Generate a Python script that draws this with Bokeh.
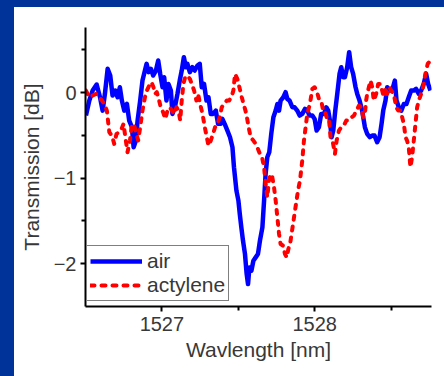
from bokeh.plotting import figure
from bokeh.models import Range1d, FixedTicker, Legend, LegendItem, ColumnDataSource
from bokeh.embed import file_html
from bokeh.resources import INLINE

# ---- data ----
air_wavelength = [
    1526.503, 1526.525, 1526.547, 1526.573, 1526.595, 1526.612, 1526.627, 1526.645, 1526.662, 1526.677,
    1526.695, 1526.710, 1526.725, 1526.738, 1526.754, 1526.771, 1526.786, 1526.804, 1526.815, 1526.830,
    1526.841, 1526.858, 1526.873, 1526.889, 1526.900, 1526.913, 1526.928, 1526.943, 1526.961, 1526.976,
    1526.989, 1527.004, 1527.015, 1527.030, 1527.043, 1527.059, 1527.069, 1527.085, 1527.102, 1527.117,
    1527.130, 1527.144, 1527.157, 1527.167, 1527.183, 1527.200, 1527.215, 1527.233, 1527.248, 1527.261,
    1527.276, 1527.292, 1527.305, 1527.320, 1527.335, 1527.353, 1527.368, 1527.385, 1527.396, 1527.411,
    1527.429, 1527.446, 1527.462, 1527.472, 1527.488, 1527.501, 1527.510, 1527.520, 1527.531, 1527.544,
    1527.555, 1527.564, 1527.573, 1527.586, 1527.599, 1527.614, 1527.629, 1527.642, 1527.658, 1527.669,
    1527.679, 1527.690, 1527.703, 1527.716, 1527.730, 1527.745, 1527.756, 1527.767, 1527.777, 1527.795,
    1527.810, 1527.821, 1527.836, 1527.854, 1527.869, 1527.886, 1527.902, 1527.919, 1527.937, 1527.952,
    1527.967, 1527.985, 1528.000, 1528.013, 1528.028, 1528.043, 1528.061, 1528.076, 1528.089, 1528.100,
    1528.111, 1528.122, 1528.135, 1528.148, 1528.163, 1528.174, 1528.187, 1528.198, 1528.213, 1528.226,
    1528.239, 1528.252, 1528.268, 1528.279, 1528.294, 1528.311, 1528.329, 1528.344, 1528.361, 1528.377,
    1528.392, 1528.409, 1528.425, 1528.438, 1528.449, 1528.464, 1528.475, 1528.492, 1528.507, 1528.525,
    1528.536, 1528.551, 1528.568, 1528.584, 1528.601, 1528.616, 1528.632, 1528.649, 1528.664, 1528.682,
    1528.697, 1528.714, 1528.730, 1528.743, 1528.758,
]
air_transmission = [
    -0.269, -0.094, 0.023, 0.094, -0.055, -0.211, -0.016, 0.277, 0.199, -0.035,
    0.023, -0.055, 0.062, -0.094, -0.211, -0.133, -0.327, -0.405, -0.639, -0.561,
    -0.327, -0.094, 0.140, 0.257, 0.335, 0.238, 0.277, 0.199, 0.257, 0.374,
    0.218, 0.062, 0.179, -0.094, 0.101, 0.023, -0.250, -0.172, -0.016, 0.140,
    0.257, 0.413, 0.296, 0.335, 0.238, 0.296, 0.257, 0.316, 0.335, 0.062,
    0.101, -0.094, -0.055, -0.250, -0.250, -0.211, -0.366, -0.366, -0.308, -0.366,
    -0.444, -0.522, -0.639, -0.873, -1.146, -1.263, -1.419, -1.575, -1.731, -1.887,
    -2.121, -2.238, -2.043, -2.082, -1.965, -1.926, -1.887, -1.731, -1.575, -1.263,
    -0.951, -0.756, -0.698, -0.483, -0.288, -0.211, -0.133, -0.211, -0.094, -0.055,
    0.004, -0.074, -0.094, -0.172, -0.172, -0.211, -0.269, -0.250, -0.191, -0.211,
    -0.269, -0.269, -0.308, -0.444, -0.405, -0.250, -0.250, -0.172, -0.211, -0.327,
    -0.522, -0.444, -0.211, -0.016, 0.218, 0.296, 0.179, 0.179, 0.296, 0.472,
    0.296, 0.218, 0.062, -0.016, -0.094, -0.211, -0.405, -0.483, -0.522, -0.503,
    -0.503, -0.581, -0.522, -0.366, -0.211, -0.094, 0.062, 0.023, 0.023, 0.140,
    -0.094, -0.172, -0.211, -0.133, -0.133, -0.055, 0.023, 0.023, 0.043, -0.016,
    0.023, 0.101, 0.218, 0.101, 0.023,
]
acetylene_wavelength = [
    1526.503, 1526.525, 1526.547, 1526.568, 1526.590, 1526.608, 1526.623, 1526.640, 1526.656, 1526.673,
    1526.688, 1526.703, 1526.721, 1526.736, 1526.749, 1526.764, 1526.775, 1526.791, 1526.804, 1526.819,
    1526.834, 1526.845, 1526.858, 1526.873, 1526.889, 1526.902, 1526.917, 1526.932, 1526.945, 1526.956,
    1526.967, 1526.982, 1526.993, 1527.008, 1527.022, 1527.037, 1527.052, 1527.065, 1527.080, 1527.096,
    1527.109, 1527.120, 1527.130, 1527.141, 1527.152, 1527.167, 1527.183, 1527.196, 1527.211, 1527.226,
    1527.237, 1527.250, 1527.266, 1527.281, 1527.294, 1527.305, 1527.320, 1527.335, 1527.348, 1527.364,
    1527.379, 1527.392, 1527.407, 1527.425, 1527.440, 1527.455, 1527.468, 1527.479, 1527.494, 1527.510,
    1527.523, 1527.538, 1527.553, 1527.566, 1527.581, 1527.599, 1527.614, 1527.629, 1527.642, 1527.658,
    1527.669, 1527.679, 1527.690, 1527.701, 1527.712, 1527.723, 1527.734, 1527.745, 1527.756, 1527.767,
    1527.777, 1527.793, 1527.806, 1527.817, 1527.828, 1527.839, 1527.849, 1527.865, 1527.878, 1527.891,
    1527.904, 1527.919, 1527.930, 1527.941, 1527.952, 1527.969, 1527.985, 1528.000, 1528.013, 1528.028,
    1528.043, 1528.056, 1528.067, 1528.078, 1528.093, 1528.104, 1528.119, 1528.133, 1528.144, 1528.159,
    1528.174, 1528.191, 1528.207, 1528.224, 1528.242, 1528.257, 1528.274, 1528.290, 1528.305, 1528.318,
    1528.329, 1528.337, 1528.344, 1528.355, 1528.366, 1528.377, 1528.387, 1528.403, 1528.416, 1528.431,
    1528.442, 1528.453, 1528.464, 1528.475, 1528.490, 1528.501, 1528.518, 1528.534, 1528.547, 1528.562,
    1528.573, 1528.584, 1528.595, 1528.605, 1528.616, 1528.627, 1528.638, 1528.649, 1528.660, 1528.671,
    1528.682, 1528.697, 1528.710, 1528.725, 1528.740, 1528.758,
]
acetylene_transmission = [
    0.023, -0.055, -0.035, -0.016, -0.055, -0.094, -0.133, -0.211, -0.464, -0.503,
    -0.600, -0.483, -0.464, -0.425, -0.366, -0.561, -0.698, -0.561, -0.366, -0.386,
    -0.483, -0.561, -0.405, -0.211, -0.055, 0.023, 0.082, 0.121, 0.062, -0.016,
    0.004, -0.094, -0.172, -0.230, -0.308, -0.211, -0.172, -0.211, -0.250, -0.172,
    -0.211, -0.327, -0.094, 0.101, 0.179, 0.199, 0.160, 0.101, 0.023, -0.094,
    -0.016, -0.133, -0.250, -0.405, -0.522, -0.620, -0.561, -0.483, -0.405, -0.366,
    -0.288, -0.172, -0.133, -0.094, -0.094, -0.055, 0.023, 0.218, 0.160, 0.043,
    -0.055, -0.152, -0.250, -0.386, -0.522, -0.561, -0.600, -0.659, -0.717, -0.776,
    -0.873, -1.068, -1.224, -1.029, -0.951, -0.990, -1.107, -1.263, -1.458, -1.653,
    -1.770, -1.789, -1.887, -1.926, -1.828, -1.770, -1.653, -1.458, -1.302, -1.146,
    -1.029, -0.795, -0.561, -0.405, -0.250, -0.133, 0.043, 0.062, 0.023, -0.074,
    -0.094, -0.211, -0.211, -0.288, -0.288, -0.522, -0.581, -0.717, -0.561, -0.444,
    -0.405, -0.386, -0.327, -0.327, -0.288, -0.269, -0.211, -0.152, -0.172, -0.288,
    -0.250, -0.094, -0.016, 0.062, 0.140, 0.062, -0.094, -0.016, 0.101, 0.101,
    0.023, -0.055, 0.062, -0.016, 0.062, 0.023, -0.016, -0.172, -0.211, -0.211,
    -0.288, -0.366, -0.522, -0.561, -0.639, -0.873, -0.756, -0.561, -0.366, -0.172,
    -0.094, -0.016, 0.062, 0.218, 0.335, 0.374,
]
series_labels = ["air", "actylene"]
x_major_ticks = [1527, 1528]
x_minor_ticks = [1527.5, 1528.5]
y_major_ticks = [-2, -1, 0]
y_minor_ticks = [-1.5, -0.5, 0.5]
x_label = "Wavlength [nm]"
y_label = "Transmission [dB]"

FONT = "Liberation Sans"
TEXT = "#383838"
FRAME_BLUE = "#003399"

p = figure(
    width=444, height=376,
    output_backend="svg", toolbar_location=None,
    x_range=Range1d(1526.5, 1528.765), y_range=Range1d(-2.5, 0.76),
    min_border_left=85, min_border_right=13, min_border_top=27, min_border_bottom=70,
    styles={
        "background": (f"linear-gradient(to right, {FRAME_BLUE} 0px, {FRAME_BLUE} 14px, transparent 14px), "
                       f"linear-gradient(to bottom, {FRAME_BLUE} 0px, {FRAME_BLUE} 7px, #ffffff 7px)"),
    },
)
p.border_fill_alpha = 0
p.background_fill_color = "white"
p.outline_line_color = None
p.xgrid.visible = False
p.ygrid.visible = False

air_src = ColumnDataSource(dict(x=air_wavelength, y=air_transmission))
ac_src = ColumnDataSource(dict(x=acetylene_wavelength, y=acetylene_transmission))

r_air = p.line("x", "y", source=air_src, line_color="#0000ff", line_width=4.5, line_join="round")
r_ac = p.line("x", "y", source=ac_src, line_color="#ff0000", line_width=4,
              line_dash="4 7", line_cap="round", line_join="round")

p.xaxis.ticker = FixedTicker(ticks=x_major_ticks, minor_ticks=x_minor_ticks)
p.yaxis.ticker = FixedTicker(ticks=y_major_ticks, minor_ticks=y_minor_ticks)
p.xaxis.axis_label = x_label
p.yaxis.axis_label = y_label

for ax in (p.xaxis[0], p.yaxis[0]):
    ax.axis_line_width = 2
    ax.axis_line_color = "black"
    ax.major_tick_line_width = 2
    ax.minor_tick_line_width = 2
    ax.major_tick_line_color = "black"
    ax.minor_tick_line_color = "black"
    ax.major_tick_in = 0
    ax.major_tick_out = 5
    ax.minor_tick_in = 0
    ax.minor_tick_out = 4
    ax.major_label_text_font = FONT
    ax.major_label_text_font_size = "20px"
    ax.major_label_text_color = TEXT
    ax.axis_label_text_font = FONT
    ax.axis_label_text_font_size = "21px"
    ax.axis_label_text_font_style = "normal"
    ax.axis_label_text_color = TEXT

p.xaxis.major_label_standoff = 5
p.xaxis.axis_label_standoff = 4
p.yaxis.major_label_standoff = 4
p.yaxis.axis_label_standoff = 8

legend = Legend(
    items=[LegendItem(label=series_labels[0], renderers=[r_air]),
           LegendItem(label=series_labels[1], renderers=[r_ac])],
    location=(1, 5),
    margin=0, padding=3, spacing=0,
    glyph_width=52, glyph_height=24, label_height=24, label_standoff=5,
    label_text_font=FONT, label_text_font_size="21px", label_text_color=TEXT,
    border_line_color="black", border_line_width=1,
    background_fill_color="white", background_fill_alpha=1,
)
p.add_layout(legend)

open("out.html", "w").write(file_html(p, INLINE))
